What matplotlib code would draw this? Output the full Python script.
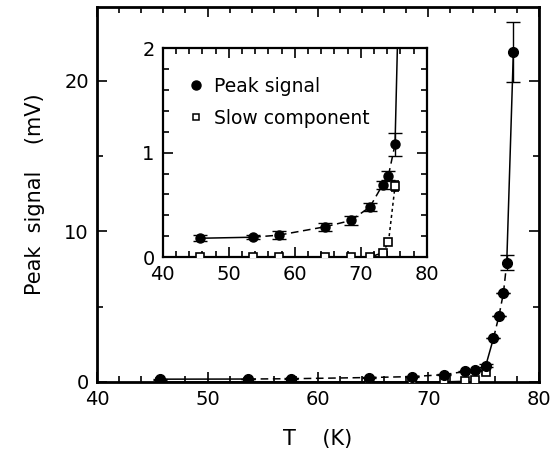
import numpy as np
import matplotlib.pyplot as plt
from matplotlib.ticker import MultipleLocator
from matplotlib.lines import Line2D

plt.rcParams['font.family'] = ['DejaVu Sans']

# peak signal (mV) vs temperature (K)
T_peak = [45.7, 53.7, 57.6, 64.6, 68.5, 71.4, 73.3, 74.2, 75.2, 75.9, 76.4, 76.8, 77.1, 77.7]
peak = [0.18, 0.19, 0.21, 0.29, 0.35, 0.48, 0.69, 0.78, 1.08, 2.9, 4.4, 5.9, 7.9, 21.9]
peak_err = [0.03, 0.02, 0.04, 0.04, 0.04, 0.04, 0.04, 0.04, 0.11, 0.0, 0.0, 0.0, 0.5, 2.0]

# slow component
T_slow = [45.7, 53.7, 57.6, 64.6, 68.5, 71.4, 73.3, 74.2, 75.2]
slow = [0.0, 0.0, 0.0, 0.0, 0.0, 0.0, 0.04, 0.14, 0.68]
slow_err = [0, 0, 0, 0, 0, 0, 0, 0.02, 0.05]

# line style per segment of the peak curve
dash = (0, (5, 3))
peak_styles = ['-', dash, dash, dash, dash, dash, dash, dash, '-', dash, dash, dash, '-']


def style_axes(ax, lw):
    for s in ax.spines.values():
        s.set_linewidth(lw)
    ax.tick_params(which='both', direction='in', top=True, right=True, width=1.2)
    ax.tick_params(which='major', length=7)
    ax.tick_params(which='minor', length=4)


def draw(ax, ms_c, ms_s):
    for i, ls in enumerate(peak_styles):
        ax.plot(T_peak[i:i + 2], peak[i:i + 2], color='black', lw=1.1, ls=ls)
    ax.plot(T_slow[:7], slow[:7], color='black', lw=1.1)
    ax.plot(T_slow[6:], slow[6:], color='black', lw=1.1, ls=(0, (2, 2)))
    ax.errorbar(T_slow, slow, yerr=slow_err, fmt='s', mfc='white', mec='black',
                mew=1.2, ms=ms_s, ecolor='black', elinewidth=1.0, capsize=3, zorder=3)
    ax.errorbar(T_peak, peak, yerr=peak_err, fmt='o', color='black', ms=ms_c,
                ecolor='black', elinewidth=1.0, capsize=5, zorder=4)


fig = plt.figure(figsize=(5.52, 4.59), dpi=100)
ax = fig.add_axes([0.176, 0.168, 0.800, 0.817])
draw(ax, 7, 5.5)
ax.set_xlim(40, 80)
ax.set_ylim(0, 24.9)
ax.xaxis.set_major_locator(MultipleLocator(10))
ax.xaxis.set_minor_locator(MultipleLocator(2))
ax.yaxis.set_major_locator(MultipleLocator(10))
ax.yaxis.set_minor_locator(MultipleLocator(5))
style_axes(ax, 2.0)
ax.tick_params(labelsize=14, pad=6)
ax.set_xlabel('T    (K)', fontsize=15, labelpad=14)
ax.set_ylabel('Peak  signal    (mV)', fontsize=15, labelpad=14)

ins = fig.add_axes([0.295, 0.440, 0.478, 0.455])
draw(ins, 6.5, 5.5)
ins.set_xlim(40, 80)
ins.set_ylim(0, 2)
ins.xaxis.set_major_locator(MultipleLocator(10))
ins.xaxis.set_minor_locator(MultipleLocator(2))
ins.yaxis.set_major_locator(MultipleLocator(1))
ins.yaxis.set_minor_locator(MultipleLocator(0.2))
style_axes(ins, 1.6)
ins.tick_params(labelsize=14, pad=6)
handles = [Line2D([], [], ls='none', marker='o', color='black', ms=6.5),
           Line2D([], [], ls='none', marker='s', mfc='white', mec='black', mew=1.1, ms=5)]
ins.legend(handles, ['Peak signal', 'Slow component'], loc='upper left',
           frameon=False, fontsize=13.5, handletextpad=0.5, handlelength=1.0,
           labelspacing=0.7, bbox_to_anchor=(0.06, 0.90), borderaxespad=0)

fig.savefig('out.png', dpi=100)
